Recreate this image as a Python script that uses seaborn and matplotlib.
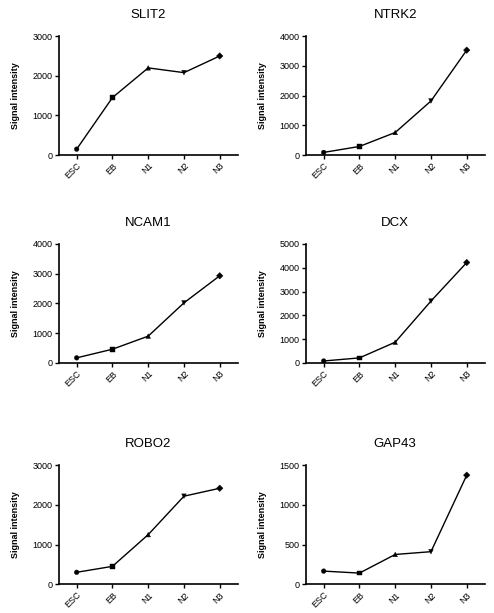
import pandas as pd
import matplotlib
matplotlib.use("Agg")
import matplotlib.pyplot as plt
import seaborn as sns

stages = ["ESC", "EB", "N1", "N2", "N3"]

slit2 = [150, 1450, 2200, 2080, 2500]
ntrk2 = [90, 290, 760, 1820, 3530]
ncam1 = [170, 460, 900, 2020, 2930]
dcx = [80, 210, 870, 2600, 4220]
robo2 = [300, 450, 1250, 2220, 2420]
gap43 = [165, 140, 375, 410, 1375]

genes = ["SLIT2", "NTRK2", "NCAM1", "DCX", "ROBO2", "GAP43"]
values = [slit2, ntrk2, ncam1, dcx, robo2, gap43]
ymax = [3000, 4000, 4000, 5000, 3000, 1500]
ystep = [1000, 1000, 1000, 1000, 1000, 500]

stage_markers = {"ESC": "o", "EB": "s", "N1": "^", "N2": "v", "N3": "D"}

sns.set_style("ticks", {"text.color": "black", "axes.labelcolor": "black",
                        "xtick.color": "black", "ytick.color": "black",
                        "axes.edgecolor": "black"})
plt.rcParams["font.family"] = ["Liberation Sans", "DejaVu Sans"]

fig = plt.figure(figsize=(4.94, 6.13), dpi=100)

lefts = [0.119, 0.619]
bottoms = [0.747, 0.408, 0.047]
w, h = 0.362, 0.194

for i, gene in enumerate(genes):
    ax = fig.add_axes([lefts[i % 2], bottoms[i // 2], w, h])
    df = pd.DataFrame({"stage": stages, "x": range(5), "signal": values[i]})
    sns.lineplot(data=df, x="x", y="signal", color="black", linewidth=1.0, ax=ax)
    sns.scatterplot(data=df, x="x", y="signal", style="stage", markers=stage_markers,
                    color="black", s=11, edgecolor="black", linewidth=0.3,
                    legend=False, ax=ax, zorder=3)
    ax.set_xlim(-0.5, 4.5)
    ax.set_ylim(0, ymax[i])
    ax.set_yticks(range(0, ymax[i] + 1, ystep[i]))
    ax.set_xticks(range(5))
    ax.set_xticklabels(stages, rotation=45, ha="right", rotation_mode="anchor")
    ax.tick_params(labelsize=6.5, width=1, length=3, color="black", labelcolor="black", pad=1.5)
    ax.set_xlabel("")
    ax.set_ylabel("Signal intensity", fontsize=6.5, fontweight="bold", labelpad=9, color="black")
    ax.set_title(gene, fontsize=9.5, pad=13, color="black")
    for side in ["left", "bottom"]:
        ax.spines[side].set_linewidth(1.2)
        ax.spines[side].set_color("black")
    sns.despine(ax=ax)

fig.savefig("out.png", dpi=100)
